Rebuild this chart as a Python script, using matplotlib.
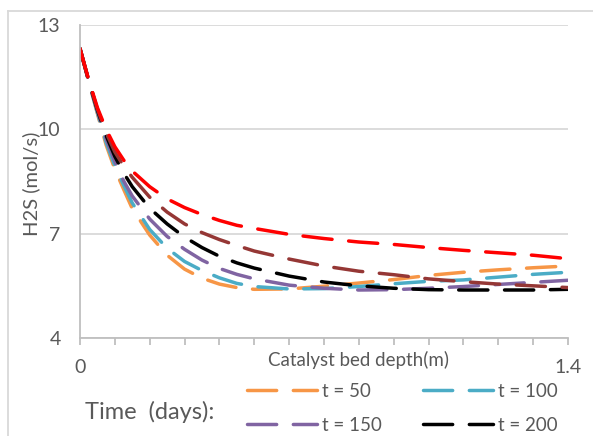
import matplotlib
matplotlib.use('Agg')
import matplotlib.pyplot as plt
from matplotlib.lines import Line2D

plt.rcParams['font.family'] = ['Lato', 'DejaVu Sans']
plt.rcParams['lines.scale_dashes'] = False

# catalyst bed depth (m)
depth = [0, 0.025, 0.05, 0.075, 0.1, 0.125, 0.15, 0.2, 0.25, 0.3, 0.35, 0.4, 0.45,
         0.5, 0.6, 0.7, 0.8, 0.9, 1.0, 1.1, 1.2, 1.3, 1.4]

# H2S (mol/s) for each curve
h2s_red = [12.32, 11.42, 10.62, 10.0, 9.50, 9.12, 8.80, 8.35, 8.00, 7.75, 7.55, 7.38, 7.24,
           7.15, 6.98, 6.86, 6.76, 6.69, 6.60, 6.52, 6.45, 6.38, 6.28]
h2s_brown = [12.32, 11.40, 10.58, 9.90, 9.35, 8.95, 8.62, 8.05, 7.62, 7.28, 7.03, 6.83, 6.66,
             6.50, 6.27, 6.07, 5.92, 5.82, 5.70, 5.62, 5.55, 5.50, 5.45]
h2s_t200 = [12.32, 11.40, 10.55, 9.82, 9.22, 8.75, 8.35, 7.73, 7.28, 6.90, 6.60, 6.35, 6.16,
            6.01, 5.78, 5.61, 5.50, 5.43, 5.39, 5.38, 5.38, 5.38, 5.40]
h2s_t150 = [12.32, 11.39, 10.52, 9.72, 9.07, 8.52, 8.08, 7.42, 6.92, 6.55, 6.24, 6.00, 5.83,
            5.70, 5.52, 5.43, 5.38, 5.39, 5.43, 5.48, 5.54, 5.60, 5.66]
h2s_t100 = [12.32, 11.38, 10.48, 9.62, 8.95, 8.40, 7.88, 7.12, 6.58, 6.20, 5.94, 5.73, 5.57,
            5.48, 5.41, 5.42, 5.48, 5.56, 5.63, 5.67, 5.75, 5.83, 5.89]
h2s_t50 = [12.32, 11.38, 10.45, 9.55, 8.85, 8.28, 7.72, 6.96, 6.38, 5.98, 5.72, 5.55, 5.45,
           5.40, 5.41, 5.49, 5.58, 5.68, 5.80, 5.89, 5.96, 6.02, 6.07]

W, H = 593, 436
fig = plt.figure(figsize=(W / 100, H / 100), dpi=100)
ax = fig.add_axes([80 / W, 1 - 338 / H, 488 / W, 313 / H])

dash = (21, 12)
lw = 2.5
series = [
    (h2s_t50, '#F79646', 't = 50'),
    (h2s_t100, '#4BACC6', 't = 100'),
    (h2s_t150, '#8064A2', 't = 150'),
    (h2s_t200, '#000000', 't = 200'),
    (h2s_brown, '#953735', None),
    (h2s_red, '#FF0000', None),
]
lines = {}
for vals, col, lab in series:
    ln, = ax.plot(depth, vals, color=col, lw=lw, dashes=dash, dash_capstyle='round',
                  solid_capstyle='round')
    if lab:
        ln.set_label(lab)
        lines[lab] = ln

ax.set_xlim(0, 1.4)
ax.set_ylim(4, 13)
ax.set_yticks([4, 7, 10, 13])
ax.set_xticks([0, 1.4])
ax.set_xticklabels(['0', '1.4'])
ax.set_xticks([i / 10 for i in range(15)], minor=True)
ax.grid(axis='y', color='#D9D9D9', lw=1.3)
ax.set_axisbelow(True)
for s in ['top', 'right']:
    ax.spines[s].set_visible(False)
for s in ['left', 'bottom']:
    ax.spines[s].set_color('#BFBFBF')
    ax.spines[s].set_linewidth(1.3)
ax.tick_params(axis='y', length=0, labelsize=14, labelcolor='#595959', pad=14)
ax.tick_params(axis='x', which='both', length=5, color='#BFBFBF', width=1.3,
               labelsize=14, labelcolor='#595959', pad=10)

fig.text(31 / W, 1 - 184 / H, 'H2S (mol/s)', rotation=90, ha='center', va='center',
         fontsize=14.5, color='#595959')
fig.text(359 / W, 1 - 360 / H, 'Catalyst bed depth(m)', ha='center', va='center',
         fontsize=13.5, color='#595959')
fig.text(85 / W, 1 - 412 / H, 'Time  (days):', ha='left', va='center',
         fontsize=17, color='#595959')

# legend fills column-wise -> order so rows read t=50, t=100 / t=150, t=200
order = ['t = 50', 't = 150', 't = 100', 't = 200']
fig.legend(handles=[lines[k] for k in order], ncol=2, loc='upper left',
           bbox_to_anchor=(247 / W, 1 - 383 / H), frameon=False, fontsize=13.5,
           handlelength=3.73, handletextpad=0.27, columnspacing=2.2, labelspacing=0.9,
           borderaxespad=0, borderpad=0, labelcolor='#595959')

# chart area border
fig.add_artist(Line2D([8 / W, 1], [1 - 11.5 / H, 1 - 11.5 / H], color='#D9D9D9', lw=1.3))
fig.add_artist(Line2D([8 / W, 8 / W], [0, 1 - 11.5 / H], color='#D9D9D9', lw=1.3))

plt.savefig('out.png', dpi=100)
